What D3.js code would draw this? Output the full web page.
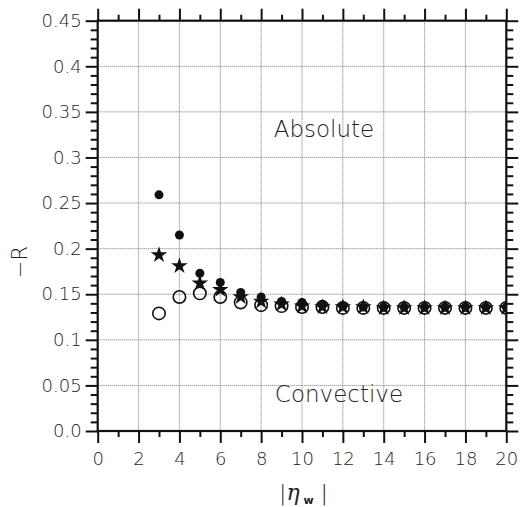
<!DOCTYPE html>
<html>
<head>
<meta charset="utf-8">
<script src="https://cdn.jsdelivr.net/npm/d3@7"></script>
<style>
  html, body { margin: 0; padding: 0; background: #fff; }
  svg text { font-family: "DejaVu Sans", sans-serif; font-weight: 300; fill: #222; }
</style>
</head>
<body>
<svg id="chart" width="520" height="507"></svg>
<script>
// |eta_w| values for the three series
const etaW = [3, 4, 5, 6, 7, 8, 9, 10, 11, 12, 13, 14, 15, 16, 17, 18, 19, 20];
// -R, filled circles
const seriesDot = [0.259, 0.215, 0.173, 0.163, 0.152, 0.147, 0.142, 0.141, 0.139, 0.137, 0.136, 0.136, 0.136, 0.136, 0.136, 0.136, 0.136, 0.136];
// -R, stars
const seriesStar = [0.193, 0.181, 0.162, 0.155, 0.147, 0.142, 0.139, 0.137, 0.136, 0.136, 0.136, 0.135, 0.135, 0.135, 0.135, 0.135, 0.135, 0.135];
// -R, open circles
const seriesRing = [0.129, 0.147, 0.151, 0.147, 0.141, 0.138, 0.137, 0.136, 0.136, 0.135, 0.135, 0.135, 0.135, 0.135, 0.135, 0.135, 0.135, 0.135];

const xTicks = [0, 2, 4, 6, 8, 10, 12, 14, 16, 18, 20];
const yTicks = [0, 0.05, 0.1, 0.15, 0.2, 0.25, 0.3, 0.35, 0.4, 0.45];
const yTickLabels = ["0.0", "0.05", "0.1", "0.15", "0.2", "0.25", "0.3", "0.35", "0.4", "0.45"];

const svg = d3.select("#chart");
const pL = 97.7, pR = 506.3, pT = 20.7, pB = 431;

const x = d3.scaleLinear().domain([0, 20]).range([pL, pR]);
const y = d3.scaleLinear().domain([0, 0.45]).range([pB, pT]);

// dotted grid
const grid = svg.append("g").attr("stroke", "#777").attr("stroke-width", 1).attr("stroke-dasharray", "1,1");
grid.selectAll("line.v").data(xTicks.filter(d => d > 0 && d < 20)).join("line").attr("class", "v")
  .attr("x1", d => x(d)).attr("x2", d => x(d)).attr("y1", pT).attr("y2", pB);
grid.selectAll("line.h").data(yTicks.filter(d => d > 0 && d < 0.45)).join("line").attr("class", "h")
  .attr("x1", pL).attr("x2", pR).attr("y1", d => y(d)).attr("y2", d => y(d));

// axes
const minorX = d3.range(1, 20, 2);
const minorY = d3.range(0, 46).map(i => i / 100).filter(v => Math.round(v * 100) % 5 !== 0);

function styleAxis(g) {
  g.select(".domain").remove();
  g.selectAll("line").attr("stroke", "#111").attr("stroke-width", 2);
}

// bottom
svg.append("g").attr("transform", `translate(0,${pB})`)
  .call(d3.axisBottom(x).tickValues(xTicks).tickSize(12).tickPadding(9).tickFormat(d3.format("d")))
  .call(styleAxis)
  .call(g => g.selectAll("text").attr("font-size", 18).attr("font-family", "DejaVu Sans").attr("fill", "#222"));
svg.append("g").attr("transform", `translate(0,${pB})`)
  .call(d3.axisBottom(x).tickValues(minorX).tickSize(6).tickFormat(""))
  .call(styleAxis);
// top
svg.append("g").attr("transform", `translate(0,${pT})`)
  .call(d3.axisTop(x).tickValues(xTicks).tickSize(12).tickFormat(""))
  .call(styleAxis);
svg.append("g").attr("transform", `translate(0,${pT})`)
  .call(d3.axisTop(x).tickValues(minorX).tickSize(6).tickFormat(""))
  .call(styleAxis);
// left
svg.append("g").attr("transform", `translate(${pL},0)`)
  .call(d3.axisLeft(y).tickValues(yTicks).tickSize(12).tickPadding(4).tickFormat((d, i) => yTickLabels[i]))
  .call(styleAxis)
  .call(g => g.selectAll("text").attr("font-size", 18).attr("font-family", "DejaVu Sans").attr("fill", "#222"));
svg.append("g").attr("transform", `translate(${pL},0)`)
  .call(d3.axisLeft(y).tickValues(minorY).tickSize(7).tickFormat(""))
  .call(styleAxis);
// right
svg.append("g").attr("transform", `translate(${pR},0)`)
  .call(d3.axisRight(y).tickValues(yTicks).tickSize(12).tickFormat(""))
  .call(styleAxis);
svg.append("g").attr("transform", `translate(${pR},0)`)
  .call(d3.axisRight(y).tickValues(minorY).tickSize(7).tickFormat(""))
  .call(styleAxis);

// frame
svg.append("rect").attr("x", pL).attr("y", pT).attr("width", pR - pL).attr("height", pB - pT)
  .attr("fill", "none").attr("stroke", "#111").attr("stroke-width", 2.2);

// markers, clipped to the plot box
svg.append("clipPath").attr("id", "plotClip").append("rect")
  .attr("x", pL).attr("y", pT).attr("width", pR - pL).attr("height", pB - pT);
const marks = svg.append("g").attr("clip-path", "url(#plotClip)");

marks.selectAll("circle.ring").data(etaW).join("circle").attr("class", "ring")
  .attr("cx", d => x(d)).attr("cy", (d, i) => y(seriesRing[i])).attr("r", 6.2)
  .attr("fill", "none").attr("stroke", "#111").attr("stroke-width", 1.6);

const star = d3.symbol().type(d3.symbolStar).size(85);
marks.selectAll("path.star").data(etaW).join("path").attr("class", "star")
  .attr("transform", (d, i) => `translate(${x(d)},${y(seriesStar[i])})`)
  .attr("d", star).attr("fill", "#111");

marks.selectAll("circle.dot").data(etaW).join("circle").attr("class", "dot")
  .attr("cx", d => x(d)).attr("cy", (d, i) => y(seriesDot[i])).attr("r", 4.5)
  .attr("fill", "#111");

// region labels
svg.append("text").attr("x", 324).attr("y", 137).attr("text-anchor", "middle")
  .attr("font-size", 23).text("Absolute");
svg.append("text").attr("x", 339).attr("y", 402).attr("text-anchor", "middle")
  .attr("font-size", 23).text("Convective");

// axis titles
svg.append("text").attr("transform", "translate(27,262) rotate(-90)").attr("text-anchor", "middle")
  .attr("font-size", 21).text("\u2212R");
const xl = svg.append("text").attr("x", 279).attr("y", 500).attr("font-size", 22);
xl.append("tspan").text("|");
xl.append("tspan").attr("font-style", "italic").attr("font-family", "DejaVu Serif").text("\u03B7");
xl.append("tspan").attr("font-size", 11).attr("font-weight", "bold").attr("dy", 4).text(" w");
xl.append("tspan").attr("dy", -4).text("  |");
</script>
</body>
</html>
